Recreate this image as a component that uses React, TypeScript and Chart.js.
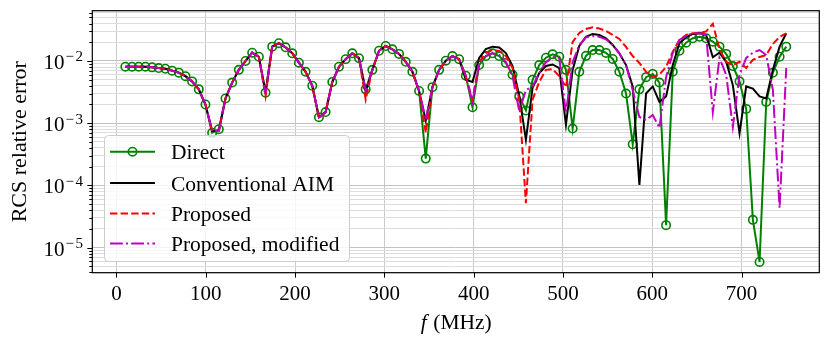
import React, { useEffect, useRef } from 'react';
import { Chart, registerables } from 'chart.js';

Chart.register(...registerables);

const freqMHz = [
  10, 17.47, 24.95, 32.42, 39.9, 47.37, 54.85, 62.32, 69.8, 77.27,
  84.75, 92.22, 99.7, 107.17, 114.65, 122.12, 129.6, 137.07, 144.55, 152.02,
  159.49, 166.97, 174.44, 181.92, 189.39, 196.87, 204.34, 211.82, 219.29, 226.77,
  234.24, 241.72, 249.19, 256.67, 264.14, 271.62, 279.09, 286.57, 294.04, 301.52,
  308.99, 316.46, 323.94, 331.41, 338.89, 346.36, 353.84, 361.31, 368.79, 376.26,
  383.74, 391.21, 398.69, 406.16, 413.64, 421.11, 428.59, 436.06, 443.54, 451.01,
  458.48, 465.96, 473.43, 480.91, 488.38, 495.86, 503.33, 510.81, 518.28, 525.76,
  533.23, 540.71, 548.18, 555.66, 563.13, 570.61, 578.08, 585.56, 593.03, 600.51,
  607.98, 615.45, 622.93, 630.4, 637.88, 645.35, 652.83, 660.3, 667.78, 675.25,
  682.73, 690.2, 697.68, 705.15, 712.63, 720.1, 727.58, 735.05, 742.53, 750,
];

const directErr = [
  0.0081, 0.0081, 0.0081, 0.0081, 0.0079, 0.0077, 0.0075, 0.007, 0.0065, 0.0057,
  0.0047, 0.0035, 0.002, 0.0007, 0.0008, 0.0025, 0.0045, 0.0072, 0.01, 0.0136,
  0.0117, 0.0031, 0.017, 0.0193, 0.0166, 0.0133, 0.0094, 0.0067, 0.004, 0.00125,
  0.00151, 0.0046, 0.0081, 0.0107, 0.0133, 0.0111, 0.0035, 0.0072, 0.0146, 0.0174,
  0.0154, 0.013, 0.0097, 0.0067, 0.0033, 0.00027, 0.0038, 0.0072, 0.0101, 0.012,
  0.0107, 0.0058, 0.0018, 0.0086, 0.012, 0.0133, 0.012, 0.0093, 0.006, 0.0027,
  0.0016, 0.005, 0.0086, 0.0113, 0.0128, 0.0117, 0.0072, 0.00082, 0.0067, 0.0121,
  0.015, 0.015, 0.0135, 0.0108, 0.0067, 0.003, 0.00046, 0.0035, 0.0055, 0.0062,
  0.0045, 0.000023, 0.0067, 0.0146, 0.0197, 0.0232, 0.0245, 0.0232, 0.0204, 0.017,
  0.013, 0.0083, 0.0047, 0.0017, 0.000028, 0.0000059, 0.0022, 0.0065, 0.0117, 0.017,
];

const convAimErr = [
  0.0081, 0.0081, 0.0081, 0.0081, 0.0079, 0.0077, 0.0075, 0.007, 0.0065, 0.0057,
  0.0047, 0.0035, 0.002, 0.00075, 0.00075, 0.0025, 0.0045, 0.0072, 0.01, 0.0136,
  0.0117, 0.0031, 0.017, 0.0193, 0.0166, 0.0133, 0.0094, 0.0067, 0.004, 0.00125,
  0.00151, 0.0046, 0.0081, 0.0107, 0.0133, 0.0111, 0.0032, 0.0072, 0.0146, 0.0174,
  0.0154, 0.013, 0.0097, 0.0067, 0.0033, 0.0011, 0.0038, 0.0072, 0.0101, 0.012,
  0.0107, 0.005, 0.0046, 0.0112, 0.0156, 0.017, 0.0165, 0.0134, 0.0083, 0.0028,
  0.00054, 0.0037, 0.0064, 0.0083, 0.0088, 0.0077, 0.00094, 0.0072, 0.0174, 0.0245,
  0.0272, 0.0262, 0.0232, 0.0181, 0.0133, 0.0086, 0.0039, 0.000102, 0.003, 0.0039,
  0.0022, 0.0027, 0.0086, 0.0193, 0.024, 0.0272, 0.0279, 0.0262, 0.0115, 0.0136,
  0.0097, 0.0041, 0.00069, 0.0039, 0.0036, 0.0027, 0.0025, 0.0072, 0.017, 0.0279,
];

const proposedErr = [
  0.0081, 0.0081, 0.0081, 0.0081, 0.0079, 0.0077, 0.0075, 0.007, 0.0065, 0.0057,
  0.0047, 0.0035, 0.002, 0.00075, 0.00075, 0.0025, 0.0045, 0.0072, 0.01, 0.0136,
  0.0117, 0.0027, 0.017, 0.0193, 0.0166, 0.0133, 0.0094, 0.0067, 0.004, 0.0012,
  0.00151, 0.0046, 0.0081, 0.0107, 0.0133, 0.0111, 0.0024, 0.0072, 0.0146, 0.0174,
  0.0154, 0.013, 0.0097, 0.0067, 0.0033, 0.0007, 0.0038, 0.0072, 0.0101, 0.012,
  0.0107, 0.0056, 0.0024, 0.0096, 0.0134, 0.015, 0.0145, 0.012, 0.0077, 0.0024,
  0.000052, 0.0024, 0.0046, 0.0072, 0.0074, 0.0057, 0.0038, 0.0202, 0.0282, 0.0327,
  0.0348, 0.0333, 0.0303, 0.0262, 0.0226, 0.0168, 0.012, 0.0093, 0.0067, 0.0056,
  0.006, 0.0081, 0.0141, 0.0218, 0.0262, 0.0279, 0.0279, 0.0298, 0.0395, 0.0155,
  0.0097, 0.0086, 0.0097, 0.0077, 0.0104, 0.0116, 0.0125, 0.0188, 0.0243, 0.0279,
];

const modifiedErr = [
  0.0081, 0.0081, 0.0081, 0.0081, 0.0079, 0.0077, 0.0075, 0.007, 0.0065, 0.0057,
  0.0047, 0.0035, 0.002, 0.00075, 0.00075, 0.0025, 0.0045, 0.0072, 0.01, 0.0136,
  0.0117, 0.0031, 0.017, 0.0193, 0.0166, 0.0133, 0.0094, 0.0067, 0.004, 0.00125,
  0.00151, 0.0046, 0.0081, 0.0107, 0.0133, 0.0111, 0.0034, 0.0072, 0.0146, 0.0174,
  0.0154, 0.013, 0.0097, 0.0067, 0.0033, 0.00113, 0.0038, 0.0072, 0.0101, 0.012,
  0.0107, 0.0057, 0.0022, 0.0089, 0.012, 0.0134, 0.0125, 0.0096, 0.0057, 0.00157,
  0.0034, 0.0039, 0.0064, 0.0096, 0.0116, 0.0112, 0.00146, 0.0096, 0.0181, 0.024,
  0.0252, 0.0245, 0.0223, 0.0181, 0.0133, 0.0086, 0.0034, 0.00126, 0.00113, 0.00136,
  0.00084, 0.0055, 0.0134, 0.0218, 0.0252, 0.0279, 0.0279, 0.0262, 0.00151, 0.0112,
  0.006, 0.00087, 0.006, 0.0112, 0.0136, 0.015, 0.0125, 0.0034, 0.000043, 0.0077,
];

const xTickValues = [0, 100, 200, 300, 400, 500, 600, 700];
const yDecadeExps = [-5, -4, -3, -2];
const legendLabels = ['Direct', 'Conventional AIM', 'Proposed', 'Proposed, modified'];
const xTitleItalic = 'f';
const xTitleRest = ' (MHz)';
const yTitle = 'RCS relative error';

const X_MIN = -27;
const X_MAX = 787;
const Y_MIN = 3.96e-6;
const Y_MAX = 0.0643;
const FONT = '"Liberation Serif", "Times New Roman", serif';

const GREEN = '#008000';
const BLACK = '#000000';
const RED = '#ff0000';
const MAGENTA = '#bf00bf';
const RED_DASH = [7.4, 3.2];
const MAG_DASH = [12.8, 3.2, 2, 3.2];

const isDecade = (v: number) => {
  const l = Math.log10(v);
  return Math.abs(l - Math.round(l)) < 1e-6;
};

export default function App() {
  const ref = useRef<HTMLCanvasElement | null>(null);

  useEffect(() => {
    const canvas = ref.current;
    if (!canvas) return;
    const toPts = (ys: number[]) => freqMHz.map((x, i) => ({ x, y: ys[i] }));

    const overlay = {
      id: 'mplOverlay',
      afterDraw(chart: any) {
        const { ctx, chartArea: a, scales } = chart;
        const xs = scales.x;
        const ys = scales.y;
        ctx.save();
        // frame
        ctx.strokeStyle = '#000';
        ctx.lineWidth = 1.2;
        ctx.setLineDash([]);
        ctx.strokeRect(a.left, a.top, a.right - a.left, a.bottom - a.top);
        // tick marks
        ctx.lineWidth = 1;
        ctx.beginPath();
        ys.ticks.forEach((t: any) => {
          const y = Math.round(ys.getPixelForValue(t.value)) + 0.5;
          const len = isDecade(t.value) ? 5 : 3;
          ctx.moveTo(a.left - len, y);
          ctx.lineTo(a.left, y);
        });
        xTickValues.forEach((v) => {
          const x = Math.round(xs.getPixelForValue(v)) + 0.5;
          ctx.moveTo(x, a.bottom);
          ctx.lineTo(x, a.bottom + 5);
        });
        ctx.stroke();

        ctx.fillStyle = '#000';
        ctx.textBaseline = 'alphabetic';
        // x tick labels
        ctx.font = `21px ${FONT}`;
        ctx.textAlign = 'center';
        xTickValues.forEach((v) => ctx.fillText(String(v), xs.getPixelForValue(v), 300));
        // y tick labels 10^e
        ctx.textAlign = 'left';
        yDecadeExps.forEach((e) => {
          const y = ys.getPixelForValue(Math.pow(10, e));
          ctx.font = `15px ${FONT}`;
          const minus = '\u2212';
          const dig = String(Math.abs(e));
          const wm = ctx.measureText(minus).width;
          const wd = ctx.measureText(dig).width;
          const right = 83;
          const xd = right - wd;
          const xm = xd - 1.5 - wm;
          ctx.fillText(dig, xd, y + 0.5);
          ctx.fillText(minus, xm, y + 0.5);
          ctx.font = `21px ${FONT}`;
          const wb = ctx.measureText('10').width;
          ctx.fillText('10', xm - 1 - wb, y + 8);
        });
        // x title
        ctx.font = `italic 21.5px ${FONT}`;
        const wf = ctx.measureText(xTitleItalic).width;
        ctx.font = `21.5px ${FONT}`;
        const wr = ctx.measureText(xTitleRest).width;
        const cx = (a.left + a.right) / 2;
        const sx = cx - (wf + wr) / 2;
        ctx.font = `italic 21.5px ${FONT}`;
        ctx.fillText(xTitleItalic, sx, 329);
        ctx.font = `21.5px ${FONT}`;
        ctx.fillText(xTitleRest, sx + wf + 1, 329);
        // y title
        ctx.save();
        ctx.translate(26, (a.top + a.bottom) / 2);
        ctx.rotate(-Math.PI / 2);
        ctx.textAlign = 'center';
        ctx.font = `22px ${FONT}`;
        ctx.fillText(yTitle, 0, 0);
        ctx.restore();

        // legend
        const bx = 104.5, by = 135.5, bw = 245, bh = 126;
        ctx.beginPath();
        if (ctx.roundRect) ctx.roundRect(bx, by, bw, bh, 4);
        else ctx.rect(bx, by, bw, bh);
        ctx.fillStyle = 'rgba(255,255,255,0.8)';
        ctx.fill();
        ctx.strokeStyle = '#cccccc';
        ctx.lineWidth = 1;
        ctx.stroke();

        const rows = [151.7, 183, 213.5, 243.5];
        const styles = [
          { c: GREEN, d: [] as number[] },
          { c: BLACK, d: [] as number[] },
          { c: RED, d: RED_DASH },
          { c: MAGENTA, d: MAG_DASH },
        ];
        legendLabels.forEach((lab, i) => {
          const y = rows[i];
          ctx.strokeStyle = styles[i].c;
          ctx.lineWidth = 2;
          ctx.setLineDash(styles[i].d);
          ctx.beginPath();
          ctx.moveTo(110, y);
          ctx.lineTo(155, y);
          ctx.stroke();
          ctx.setLineDash([]);
          if (i === 0) {
            ctx.beginPath();
            ctx.arc(132.5, y, 4.2, 0, Math.PI * 2);
            ctx.lineWidth = 1.6;
            ctx.stroke();
          }
          ctx.fillStyle = '#000';
          ctx.font = `21.5px ${FONT}`;
          ctx.textAlign = 'left';
          ctx.fillText(lab, 171, y + 7.5);
        });
        ctx.restore();
      },
    };

    const chart = new Chart(canvas, {
      type: 'line',
      data: {
        datasets: [
          {
            label: legendLabels[0],
            data: toPts(directErr),
            borderColor: GREEN,
            borderWidth: 2,
            pointRadius: 4.2,
            pointBorderWidth: 1.6,
            pointBackgroundColor: 'rgba(0,0,0,0)',
            pointBorderColor: GREEN,
            order: 4,
          },
          {
            label: legendLabels[1],
            data: toPts(convAimErr),
            borderColor: BLACK,
            borderWidth: 2,
            pointRadius: 0,
            order: 3,
          },
          {
            label: legendLabels[2],
            data: toPts(proposedErr),
            borderColor: RED,
            borderWidth: 2,
            borderDash: RED_DASH,
            pointRadius: 0,
            order: 2,
          },
          {
            label: legendLabels[3],
            data: toPts(modifiedErr),
            borderColor: MAGENTA,
            borderWidth: 2,
            borderDash: MAG_DASH,
            pointRadius: 0,
            order: 1,
          },
        ],
      },
      options: {
        animation: false,
        responsive: false,
        devicePixelRatio: 1,
        layout: { padding: { left: 0, right: 10.7, top: 10.7, bottom: 0 } },
        plugins: { legend: { display: false }, tooltip: { enabled: false } },
        elements: { line: { tension: 0 } },
        scales: {
          x: {
            type: 'linear',
            min: X_MIN,
            max: X_MAX,
            ticks: { display: false },
            border: { display: false },
            grid: { color: '#c9c9c9', lineWidth: 1, drawTicks: false },
            afterBuildTicks: (scale: any) => {
              scale.ticks = xTickValues.map((v) => ({ value: v }));
            },
            afterFit: (scale: any) => {
              scale.height = 73.3;
            },
          },
          y: {
            type: 'logarithmic',
            min: Y_MIN,
            max: Y_MAX,
            ticks: { display: false },
            border: { display: false },
            grid: {
              drawTicks: false,
              lineWidth: 1,
              color: (c: any) => (c.tick && isDecade(c.tick.value) ? '#c2c2c2' : '#dcdcdc'),
            },
            afterBuildTicks: (scale: any) => {
              const t: { value: number }[] = [];
              for (let e = -6; e <= -1; e++) {
                for (let m = 1; m <= 9; m++) {
                  const v = parseFloat((m * Math.pow(10, e)).toPrecision(6));
                  if (v >= Y_MIN && v <= Y_MAX) t.push({ value: v });
                }
              }
              scale.ticks = t;
            },
            afterFit: (scale: any) => {
              scale.width = 92.3;
            },
          },
        },
      } as any,
      plugins: [overlay],
    });
    return () => chart.destroy();
  }, []);

  return (
    <div style={{ position: 'fixed', left: 0, top: 0, width: 830, height: 346, background: '#fff' }}>
      <canvas ref={ref} width={830} height={346} style={{ display: 'block', width: 830, height: 346 }} />
    </div>
  );
}
